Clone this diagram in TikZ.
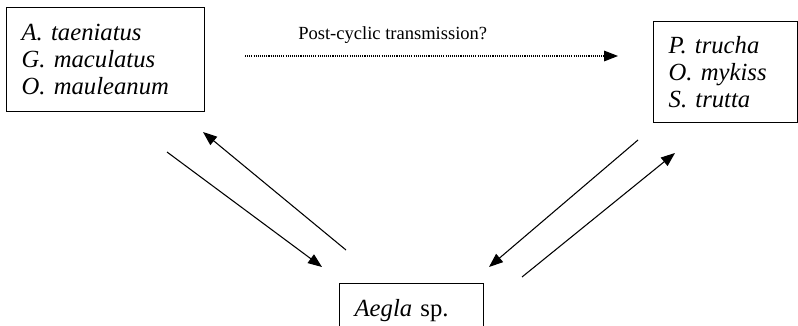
\documentclass[tikz,border=0pt]{standalone}
\usepackage{fontspec}
\setmainfont{Liberation Serif}
\usetikzlibrary{arrows.meta,positioning}

\begin{document}
\begin{tikzpicture}[
    x=0.75pt, y=-0.75pt,
    >={Triangle[length=10.5pt,width=8pt]},
    hostbox/.style={rectangle, draw, line width=1pt, align=left, inner xsep=11.25pt, inner ysep=0pt, font=\fontsize{18.5}{20.5}\selectfont},
    flow/.style={draw, ->, line width=0.8pt},
    guess/.style={flow, dash pattern=on 0.8pt off 0.8pt}
]
    \useasboundingbox (0,0) rectangle (798,325);
    \clip (0,0) rectangle (798,325);
    % hosts
    \node[hostbox, text width=126pt, minimum height=78pt, anchor=north west] (fish) at (6,7)
        {\itshape A. taeniatus\\ G. maculatus\\ O. mauleanum};
    \node[hostbox, text width=85.5pt, minimum height=75.75pt, anchor=north west] (trout) at (653,21)
        {\itshape P. trucha\\ O. mykiss\\ S. trutta};
    \node[hostbox, text width=85.5pt, minimum height=40.5pt, anchor=north west] (crab) at (339,283)
        {\textit{Aegla} sp.};
    \node[anchor=west, inner sep=0pt, font=\fontsize{13.9}{16}\selectfont] (post) at (298,35) {Post-cyclic transmission?};
    % arrow ends
    \coordinate (dotA) at (245,56);
    \coordinate (dotB) at (618,56);
    \coordinate (l1a) at (167,152);
    \coordinate (l1b) at (322,267);
    \coordinate (l2a) at (346,250);
    \coordinate (l2b) at (203,132);
    \coordinate (r1a) at (638,140);
    \coordinate (r1b) at (489,267);
    \coordinate (r2a) at (522,277);
    \coordinate (r2b) at (675,153);
    \draw[guess] (dotA) -- (dotB);
    \draw[flow] (l1a) -- (l1b);
    \draw[flow] (l2a) -- (l2b);
    \draw[flow] (r1a) -- (r1b);
    \draw[flow] (r2a) -- (r2b);
\end{tikzpicture}
\end{document}
